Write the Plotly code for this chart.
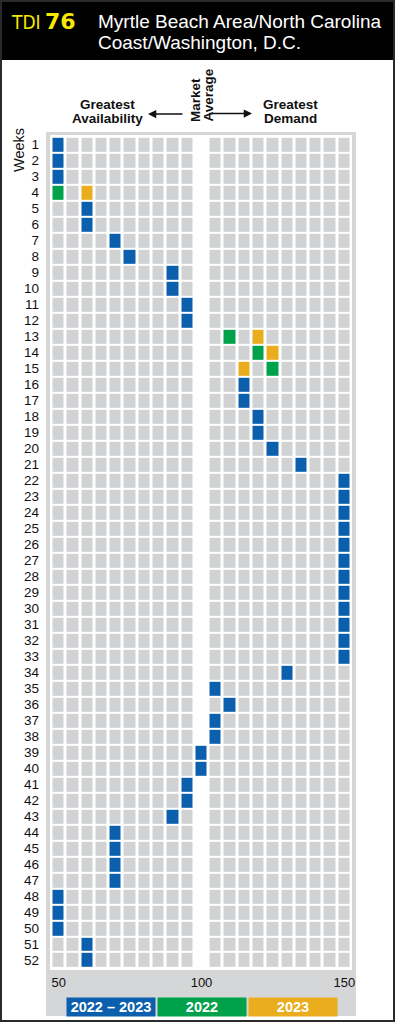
import plotly.graph_objects as go
import math

# ---------------- data ----------------
weeks = list(range(1, 53))
columns = list(range(50, 155, 5))  # 50 ... 150, 100 = market average
# 2022-2023 (blue) position per week (None = no blue cell)
blue_vals = [50, 50, 50, None, 60, 60, 70, 75, 90, 90, 95, 95, None, None, None,
             115, 115, 120, 120, 125, 135,
             150, 150, 150, 150, 150, 150, 150, 150, 150, 150, 150, 150,
             130, 105, 110, 105, 105, 100, 100, 95, 95, 90, 70, 70, 70, 70,
             50, 50, 50, 60, 60]
# 2022 (green) and 2023 (orange) cells for weeks without a combined value
green_weeks = [4, 13, 14, 15]
green_vals = [50, 110, 120, 125]
orange_weeks = [4, 13, 14, 15]
orange_vals = [60, 120, 125, 115]
x_ticks = [50, 100, 150]
legend_labels = ["2022 \u2013 2023", "2022", "2023"]
title_tdi = "TDI"
title_num = "76"
title_lines = ["Myrtle Beach Area/North Carolina", "Coast/Washington, D.C."]

# ---------------- colours ----------------
GRAY = "#d1d2d4"
PANEL = "#d5d6d8"
BLUE = "#0b5fad"
GREEN = "#00a14b"
ORANGE = "#e9ad1e"
YELLOW = "#f7e900"
FONT = "Liberation Sans, Arial, sans-serif"

# ---------------- matrix ----------------
z = []
for wi, w in enumerate(weeks):
    row = []
    for c in columns:
        row.append(float("nan") if c == 100 else 0)
    z.append(row)
for wi, v in enumerate(blue_vals):
    if v is not None:
        z[wi][columns.index(v)] = 1
for w, v in zip(green_weeks, green_vals):
    z[w - 1][columns.index(v)] = 2
for w, v in zip(orange_weeks, orange_vals):
    z[w - 1][columns.index(v)] = 3

colorscale = [[0, GRAY], [0.1666, GRAY], [0.1667, BLUE], [0.4999, BLUE],
              [0.5, GREEN], [0.8333, GREEN], [0.8334, ORANGE], [1, ORANGE]]

W, H = 395, 1022
L, R, T, B = 50, 43, 135, 52
PW, PH = W - L - R, H - T - B


def px(x):
    return (x - L) / PW


def py(y):
    return (H - B - y) / PH


fig = go.Figure()
fig.add_trace(go.Heatmap(
    z=z, x=columns, y=weeks, zmin=0, zmax=3, colorscale=colorscale,
    showscale=False, xgap=3, ygap=2, hoverinfo="skip"))

shapes = [
    # grey panel
    dict(type="rect", xref="paper", yref="paper", x0=px(46), x1=px(356),
         y0=py(132), y1=py(1016), fillcolor=PANEL, line=dict(width=0), layer="below"),
    # white grid area
    dict(type="rect", xref="paper", yref="paper", x0=0, x1=1, y0=0, y1=1,
         fillcolor="white", line=dict(width=0), layer="below"),
    # black header
    dict(type="rect", xref="paper", yref="paper", x0=px(0), x1=px(395),
         y0=py(60), y1=py(0), fillcolor="black", line=dict(width=0), layer="below"),
    # outer frame
    dict(type="rect", xref="paper", yref="paper", x0=px(1), x1=px(394),
         y0=py(1021), y1=py(1), fillcolor="rgba(0,0,0,0)",
         line=dict(color="#2a2a2a", width=2), layer="above"),
]

ann = []


def text(x, y, s, size, color="black", weight="normal", xanchor="center",
         angle=0, family=FONT):
    ann.append(dict(xref="paper", yref="paper", x=px(x), y=py(y), text=s,
                    showarrow=False, xanchor=xanchor, yanchor="middle",
                    textangle=angle,
                    font=dict(size=size, color=color, family=family, weight=weight)))


# header
text(9, 22, title_tdi, 19, YELLOW, xanchor="left",
     family="Liberation Sans Narrow, DejaVu Sans Condensed, Liberation Sans, sans-serif")
text(43, 22, title_num, 22, YELLOW, weight="bold", xanchor="left",
     family="DejaVu Sans, Liberation Sans, sans-serif")
text(96, 22, title_lines[0], 19, "white", xanchor="left")
text(96, 43, title_lines[1], 19, "white", xanchor="left")

# direction labels
text(107.5, 105, "Greatest", 13.5, "#111", weight="bold")
text(107.5, 119, "Availability", 13.5, "#111", weight="bold")
text(290.5, 105, "Greatest", 13.5, "#111", weight="bold")
text(290.5, 119, "Demand", 13.5, "#111", weight="bold")
text(195, 100, "Market", 13.5, "#111", weight="bold", angle=-90)
text(207.5, 95, "Average", 13.5, "#111", weight="bold", angle=-90)
text(19, 150, "Weeks", 14.5, "#111", angle=-90)

# arrows
for tip, tail, yy in [(148, 184, 114), (252, 208, 113.5)]:
    ann.append(dict(xref="paper", yref="paper", x=px(tip), y=py(yy), text="",
                    showarrow=True, ax=tail - tip, ay=0, arrowhead=2,
                    arrowsize=1.1, arrowwidth=1.5, arrowcolor="#111", standoff=0))

# legend boxes
for label, col, cx in zip(legend_labels, [BLUE, GREEN, ORANGE], [110.5, 201.5, 293]):
    ann.append(dict(xref="paper", yref="paper", x=px(cx), y=py(1007), text=label,
                    showarrow=False, xanchor="center", yanchor="middle",
                    width=88, height=18, bgcolor=col, borderpad=0,
                    font=dict(size=14.5, color="white", family=FONT, weight="bold")))

# ranges so that grid sits inside the white area
unit_x = 14.28 / 5
x_lo = 47.5 - 1.5 / unit_x
x_hi = 152.5 + 0.5 / unit_x
pitch_y = 15.99
pad_y = (PH - 52 * pitch_y) / 2

fig.update_layout(
    width=W, height=H, margin=dict(l=L, r=R, t=T, b=B),
    paper_bgcolor="white", plot_bgcolor="white",
    shapes=shapes, annotations=ann, showlegend=False,
    xaxis=dict(range=[x_lo, x_hi], tickvals=x_ticks, ticktext=[str(v) for v in x_ticks],
               showgrid=False, zeroline=False, showline=False, ticks="",
               ticklabelstandoff=3,
               tickfont=dict(size=13, color="#111", family=FONT), fixedrange=True),
    yaxis=dict(range=[52.5 + pad_y / pitch_y, 0.5 - pad_y / pitch_y],
               tickvals=weeks, ticktext=[str(w) for w in weeks],
               showgrid=False, zeroline=False, showline=False, ticks="",
               ticklabelstandoff=10,
               tickfont=dict(size=13.5, color="#111", family=FONT), fixedrange=True),
)

fig.write_html("out.html")
